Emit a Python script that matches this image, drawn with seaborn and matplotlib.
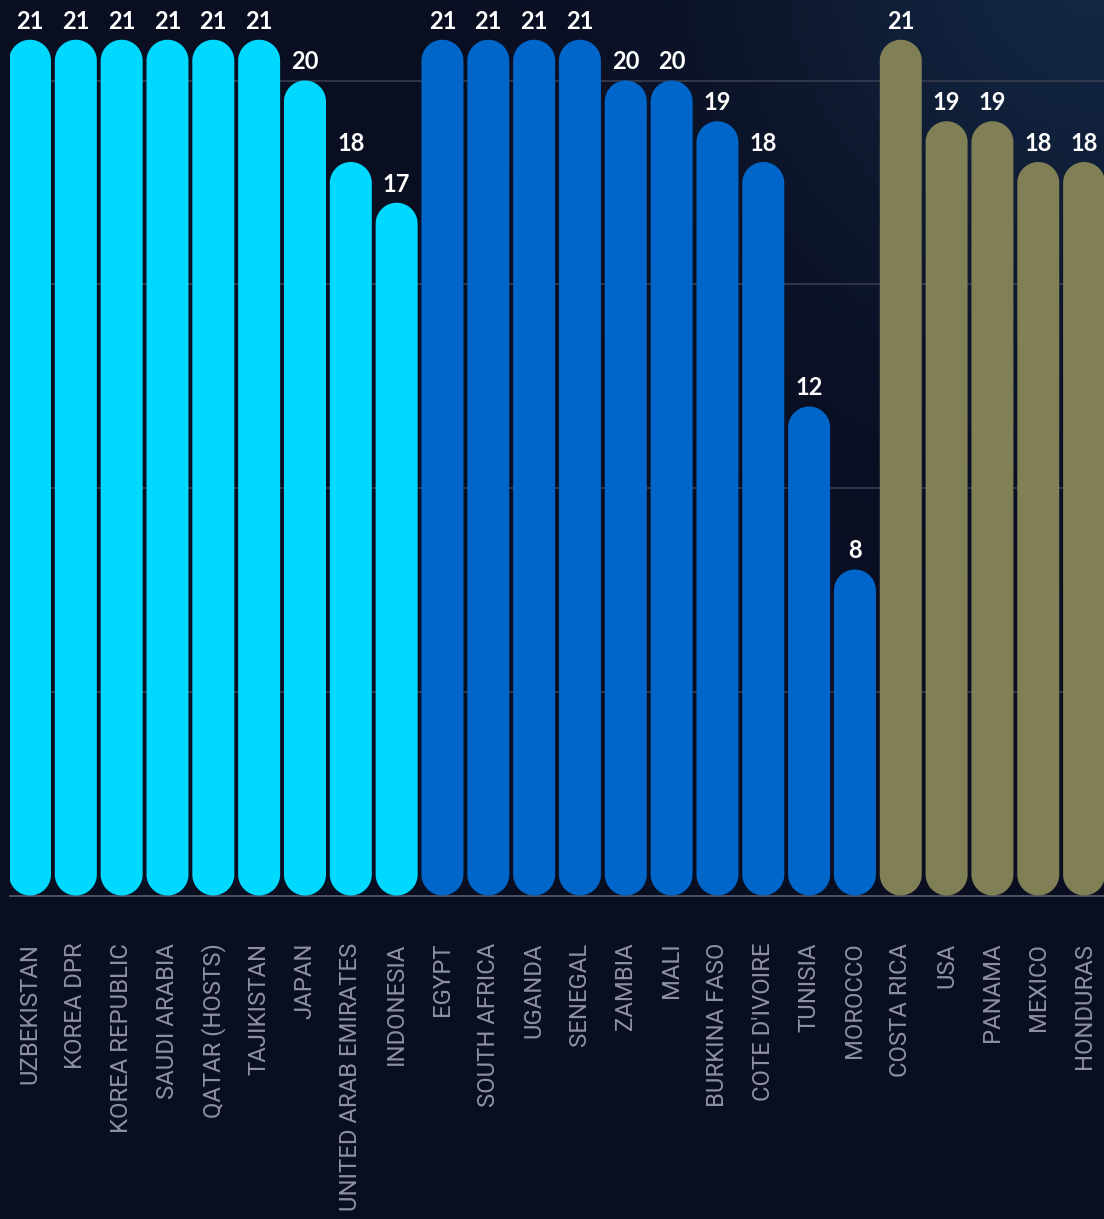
import numpy as np
import pandas as pd
import matplotlib
matplotlib.use("Agg")
import matplotlib.pyplot as plt
from matplotlib.patches import Polygon
import seaborn as sns

# ---- data -------------------------------------------------------------
countries = [
    "UZBEKISTAN", "KOREA DPR", "KOREA REPUBLIC", "SAUDI ARABIA", "QATAR (HOSTS)",
    "TAJIKISTAN", "JAPAN", "UNITED ARAB EMIRATES", "INDONESIA",
    "EGYPT", "SOUTH AFRICA", "UGANDA", "SENEGAL", "ZAMBIA", "MALI",
    "BURKINA FASO", "COTE D'IVOIRE", "TUNISIA", "MOROCCO",
    "COSTA RICA", "USA", "PANAMA", "MEXICO", "HONDURAS",
]
values = [21, 21, 21, 21, 21, 21, 20, 18, 17,
          21, 21, 21, 21, 20, 20, 19, 18, 12, 8,
          21, 19, 19, 18, 18]
confederations = ["AFC"] * 9 + ["CAF"] * 10 + ["CONCACAF"] * 5
palette = {"AFC": "#00d9ff", "CAF": "#0066c9", "CONCACAF": "#807f55"}

df = pd.DataFrame({"country": countries, "value": values, "conf": confederations})

# ---- figure -----------------------------------------------------------
W, H = 1104, 1219
fig = plt.figure(figsize=(W / 100, H / 100), dpi=100)
bg_color = np.array([10, 14, 33]) / 255
fig.patch.set_facecolor(bg_color)

# subtle glow in the top-right corner of the background
bg = fig.add_axes([0, 0, 1, 1], zorder=-10)
yy, xx = np.mgrid[0:H, 0:W]
d2 = (xx - W) ** 2 + (yy + 40) ** 2
glow = np.exp(-d2 / (2 * 250.0 ** 2))
glow_color = np.array([19, 38, 66]) / 255
img = bg_color[None, None, :] * (1 - glow[..., None]) + glow_color[None, None, :] * glow[..., None]
bg.imshow(img, aspect="auto", extent=(0, 1, 0, 1), origin="upper")
bg.axis("off")

base_px = 895.5        # baseline from top, in pixels
left_px = 10
ax = fig.add_axes([left_px / W, (H - base_px) / H, (W - left_px) / W, base_px / H])
ax.patch.set_alpha(0)

sns.barplot(data=df, x="country", y="value", hue="conf", palette=palette,
            dodge=False, width=0.916, legend=False, ax=ax, saturation=1)

pitch_px = 45.83
unit_px = 40.75
x0 = -(30 - left_px) / pitch_px
x1 = x0 + (W - left_px) / pitch_px
ax.set_xlim(x0, x1)
ax.set_ylim(0, base_px / unit_px)


def pill(x, w, h, fc):
    """Rectangle with semicircular ends, spanning 0..h in data units."""
    rx = w / 2
    ry = rx * pitch_px / unit_px
    xc = x + rx
    t_top = np.linspace(0, np.pi, 60)
    t_bot = np.linspace(np.pi, 2 * np.pi, 60)
    top = np.column_stack([xc + rx * np.cos(t_top), h - ry + ry * np.sin(t_top)])
    bot = np.column_stack([xc + rx * np.cos(t_bot), ry + ry * np.sin(t_bot)])
    return Polygon(np.vstack([top, bot]), closed=True, facecolor=fc,
                   edgecolor="none", zorder=3)


# swap the rectangular bars for pill-shaped ones
for p in list(ax.patches):
    h = p.get_height()
    if h <= 0 or np.isnan(h):
        p.remove()
        continue
    x, w = p.get_x(), p.get_width()
    fc = p.get_facecolor()
    p.remove()
    ax.add_patch(pill(x, w, h, fc))

# value labels above each bar
for i, v in enumerate(values):
    ax.annotate(str(v), (i, v), xytext=(0, 8.0), textcoords="offset points",
                ha="center", va="baseline", color="white", fontsize=17,
                fontweight="bold", family="Lato", zorder=4)

# grid and baseline
for gy in [5, 10, 15, 20]:
    ax.axhline(gy, color="#3b3f52", lw=1.1, zorder=1)
ax.axhline(0, color="#5a5e6e", lw=1.2, zorder=1, clip_on=False)

for s in ax.spines.values():
    s.set_visible(False)
ax.set_yticks([])
ax.set_xlabel("")
ax.set_ylabel("")
ax.tick_params(axis="x", length=0, pad=34)
ax.set_xticks(range(len(countries)))
ax.set_xticklabels(countries, rotation=90, color="#8e929f", fontsize=17.2,
                   family="Roboto")

fig.savefig("out.png", dpi=100, facecolor=fig.get_facecolor())
